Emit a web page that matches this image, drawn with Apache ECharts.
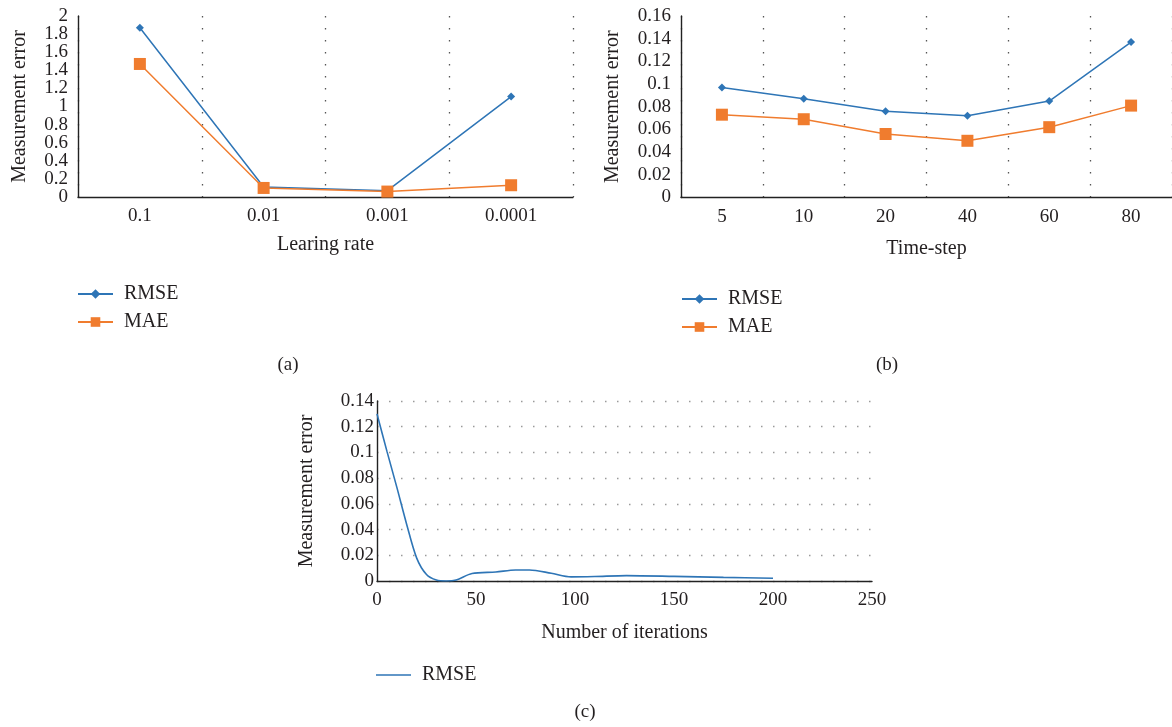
<!DOCTYPE html>
<html>
<head>
<meta charset="utf-8">
<script src="https://cdn.jsdelivr.net/npm/echarts@6/dist/echarts.min.js"></script>
<style>
html,body{margin:0;padding:0;background:#fff;}
#chart{width:1172px;height:727px;}
</style>
</head>
<body>
<div id="chart"></div>
<script>
// ---- Data ----
const lrCategories = ['0.1', '0.01', '0.001', '0.0001'];
const rmseA = [1.87, 0.11, 0.07, 1.11];
const maeA = [1.47, 0.10, 0.06, 0.13];

const tsCategories = ['5', '10', '20', '40', '60', '80'];
const rmseB = [0.097, 0.087, 0.076, 0.072, 0.085, 0.137];
const maeB = [0.073, 0.069, 0.056, 0.050, 0.062, 0.081];

const iterC = [0, 5, 10, 15, 20, 25, 30, 35, 40, 48, 60, 70, 77, 88, 98, 110, 126, 150, 175, 200];
const rmseC = [0.130, 0.101, 0.073, 0.044, 0.018, 0.005, 0.0007, 0.0, 0.0008, 0.0058, 0.0070, 0.0086, 0.0086, 0.0060, 0.0032, 0.0035, 0.0042, 0.0036, 0.0028, 0.0021];

const panelLabels = ['(a)', '(b)', '(c)'];

// ---- Styles ----
const FONT = '"Liberation Serif", "DejaVu Serif", serif';
const TXT = '#231f20';
const BLUE = '#2e75b6';
const ORANGE = '#f07c2e';
const tickFont = { fontFamily: FONT, fontSize: 19, color: TXT };
const nameFont = { fontFamily: FONT, fontSize: 20, color: TXT };
const axisLineStyle = { show: true, lineStyle: { color: '#222', width: 1.4 } };
const dotV = { show: true, interval: 0, lineStyle: { color: '#555', width: 1.3, type: [1.5, 10.5] } };
const dotH = { show: true, lineStyle: { color: '#9a9a9a', width: 1.4, type: [1.5, 10.5] } };

const seriesC = iterC.map((x, i) => [x, rmseC[i]]);

function legendCfg(left, top, names, extra) {
  return Object.assign({
    left: left, top: top, orient: 'vertical', padding: 0,
    itemWidth: 35, itemHeight: 12, itemGap: 8,
    selectedMode: false,
    data: names,
    formatter: n => n.split(':')[1],
    textStyle: Object.assign({}, nameFont, { padding: [0, 0, 0, 6] })
  }, extra || {});
}

function yLabel(margin) {
  return Object.assign({ margin: margin, showMinLabel: true, showMaxLabel: true, hideOverlap: false }, tickFont);
}

const option = {
  animation: false,
  backgroundColor: '#fff',
  textStyle: { fontFamily: FONT },
  grid: [
    { left: 78, top: 16, width: 495, height: 181 },
    { left: 681, top: 16, width: 491, height: 181.5 },
    { left: 377, top: 401, width: 495, height: 180 }
  ],
  xAxis: [
    { gridIndex: 0, type: 'category', data: lrCategories, boundaryGap: true,
      axisLine: axisLineStyle, axisTick: { show: false },
      axisLabel: Object.assign({ margin: 10 }, tickFont),
      splitLine: dotV,
      name: 'Learing rate', nameLocation: 'middle', nameGap: 38, nameTextStyle: nameFont },
    { gridIndex: 1, type: 'category', data: tsCategories, boundaryGap: true,
      axisLine: axisLineStyle, axisTick: { show: false },
      axisLabel: Object.assign({ margin: 10 }, tickFont),
      splitLine: dotV,
      name: 'Time-step', nameLocation: 'middle', nameGap: 41, nameTextStyle: nameFont },
    { gridIndex: 2, type: 'value', min: 0, max: 250, interval: 50,
      axisLine: axisLineStyle, axisTick: { show: false },
      axisLabel: Object.assign({ margin: 10, showMinLabel: true, showMaxLabel: true }, tickFont),
      splitLine: { show: false },
      name: 'Number of iterations', nameLocation: 'middle', nameGap: 42, nameTextStyle: nameFont }
  ],
  yAxis: [
    // panel (a): even ticks 0, 0.4, ... 2
    { gridIndex: 0, type: 'value', min: 0, max: 2, interval: 0.4,
      axisLine: axisLineStyle, axisTick: { show: false },
      axisLabel: yLabel(10),
      splitLine: { show: false },
      name: 'Measurement error', nameLocation: 'middle', nameGap: 48, nameTextStyle: nameFont },
    // panel (a): odd ticks 0.2, 0.6, ... 1.8
    { gridIndex: 0, type: 'value', position: 'left', min: 0, max: 2, interval: 0.2,
      axisLine: { show: false }, axisTick: { show: false },
      axisLabel: Object.assign({ margin: 10, showMinLabel: false, showMaxLabel: false, hideOverlap: false,
        formatter: function (v) { const k = Math.round(v / 0.2); return k % 2 === 1 ? String(+v.toFixed(1)) : ''; } }, tickFont),
      splitLine: { show: false } },
    { gridIndex: 1, type: 'value', min: 0, max: 0.16, interval: 0.02,
      axisLine: axisLineStyle, axisTick: { show: false },
      axisLabel: yLabel(10),
      splitLine: { show: false },
      name: 'Measurement error', nameLocation: 'middle', nameGap: 58, nameTextStyle: nameFont },
    { gridIndex: 2, type: 'value', min: 0, max: 0.14, interval: 0.02,
      axisLine: axisLineStyle, axisTick: { show: false },
      axisLabel: yLabel(3),
      splitLine: dotH,
      name: 'Measurement error', nameLocation: 'middle', nameGap: 60, nameTextStyle: nameFont }
  ],
  legend: [
    legendCfg(77, 284, ['a:RMSE', 'a:MAE']),
    legendCfg(681, 289, ['b:RMSE', 'b:MAE']),
    legendCfg(376, 665, [{ name: 'c:RMSE', icon: 'rect' }], { itemHeight: 1.6 })
  ],
  series: [
    { name: 'a:RMSE', type: 'line', xAxisIndex: 0, yAxisIndex: 0, data: rmseA,
      symbol: 'diamond', symbolSize: 8, color: BLUE, lineStyle: { width: 1.5 }, itemStyle: { color: BLUE } },
    { name: 'a:MAE', type: 'line', xAxisIndex: 0, yAxisIndex: 0, data: maeA,
      symbol: 'rect', symbolSize: 12, color: ORANGE, lineStyle: { width: 1.5 }, itemStyle: { color: ORANGE } },
    { name: 'b:RMSE', type: 'line', xAxisIndex: 1, yAxisIndex: 2, data: rmseB,
      symbol: 'diamond', symbolSize: 8, color: BLUE, lineStyle: { width: 1.5 }, itemStyle: { color: BLUE } },
    { name: 'b:MAE', type: 'line', xAxisIndex: 1, yAxisIndex: 2, data: maeB,
      symbol: 'rect', symbolSize: 12, color: ORANGE, lineStyle: { width: 1.5 }, itemStyle: { color: ORANGE } },
    { name: 'c:RMSE', type: 'line', xAxisIndex: 2, yAxisIndex: 3, data: seriesC,
      symbol: 'none', smooth: 0.3, color: BLUE, lineStyle: { width: 1.6 }, itemStyle: { color: BLUE } }
  ],
  graphic: [
    { type: 'text', x: 288, y: 365, style: { text: panelLabels[0], font: '19px ' + FONT, fill: TXT, textAlign: 'center', textVerticalAlign: 'middle' } },
    { type: 'text', x: 887, y: 365, style: { text: panelLabels[1], font: '19px ' + FONT, fill: TXT, textAlign: 'center', textVerticalAlign: 'middle' } },
    { type: 'text', x: 585, y: 712, style: { text: panelLabels[2], font: '19px ' + FONT, fill: TXT, textAlign: 'center', textVerticalAlign: 'middle' } }
  ]
};

const chart = echarts.init(document.getElementById('chart'), null, { renderer: 'canvas' });
chart.setOption(option);
</script>
</body>
</html>
